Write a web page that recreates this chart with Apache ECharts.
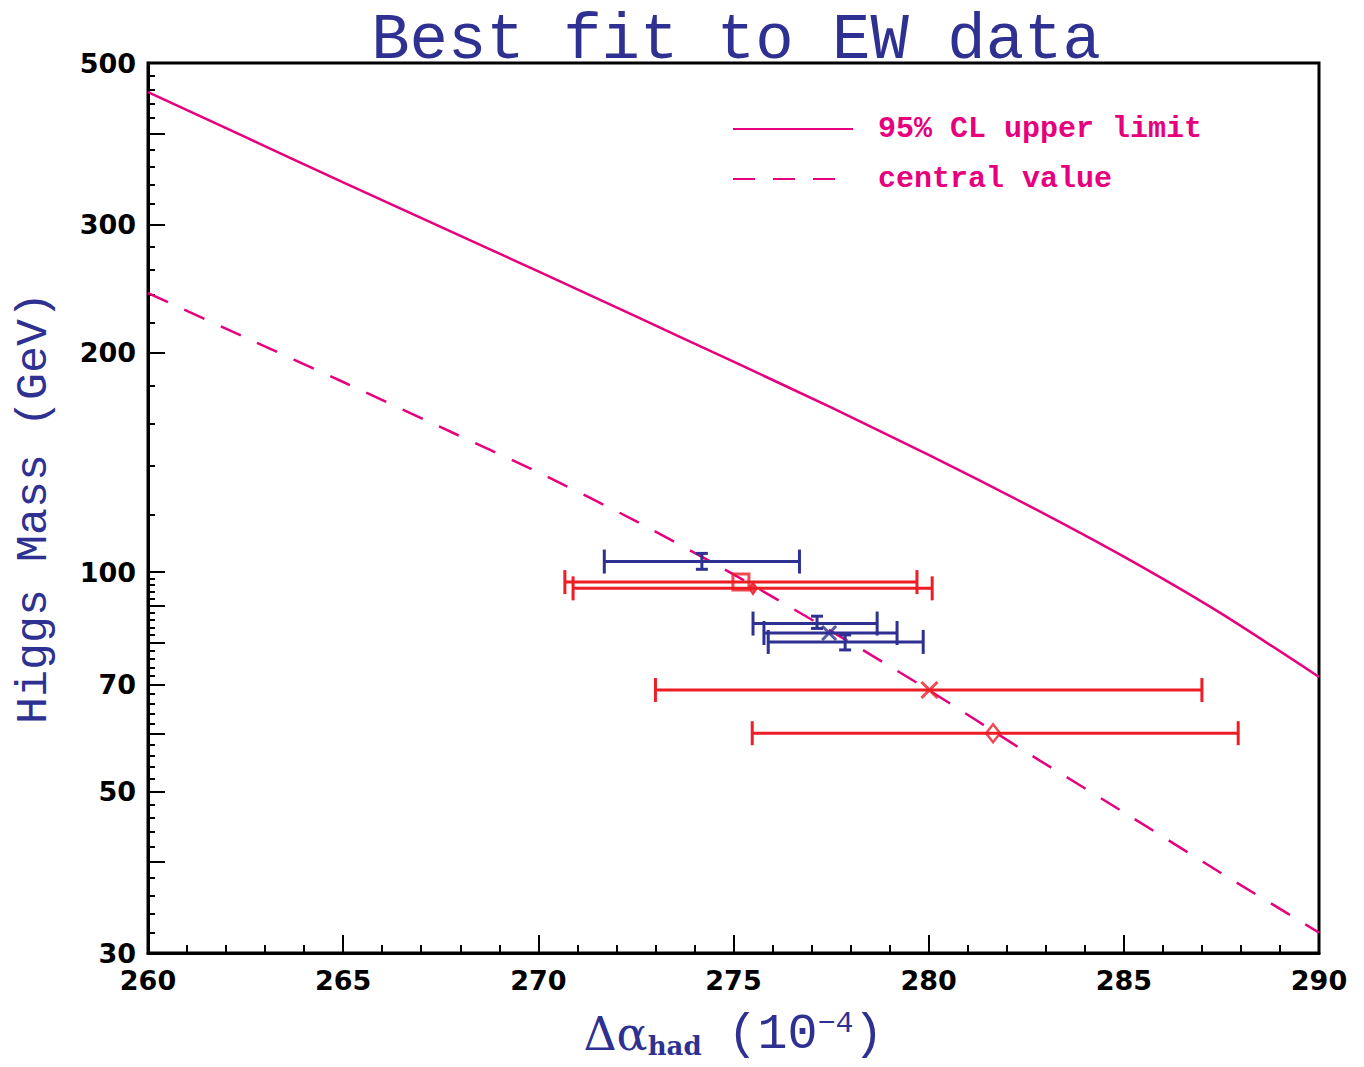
<!DOCTYPE html>
<html>
<head>
<meta charset="utf-8">
<script src="https://cdn.jsdelivr.net/npm/echarts@6/dist/echarts.min.js"></script>
<style>html,body{margin:0;padding:0;background:#fff;}#c{width:1364px;height:1067px;}</style>
</head>
<body>
<div id="c"></div>
<script>
// ---- data ----
const curveX = [260, 262.5, 265, 267.5, 270, 272.5, 275, 277.5, 280, 282.5, 285, 287.5, 290];
const upperLimit = [456, 395.5, 342.8, 297.8, 258.8, 224.4, 194.5, 168.3, 144.9, 123.9, 105.0, 87.7, 71.8];
const centralValue = [241.6, 209.9, 182.4, 158.1, 137.1, 117.5, 99.3, 83.0, 68.9, 56.6, 46.8, 38.6, 32.0];

// error bars: [xLow, xHigh, xCentre, y, yLow, yHigh]
const blueBars = [
  [271.69, 276.69, 274.19, 103.4, 100.9, 106.1],
  [275.5, 278.68, 277.14, 85.0, 83.7, 87.0],
  [275.78, 279.19, 277.45, 82.5, null, null],
  [275.89, 279.86, 277.86, 80.2, 78.2, 82.0]
];
const redBars = [
  [270.68, 279.70, 275.19, 96.9, null, null],
  [270.89, 280.09, 275.5, 95.0, null, null],
  [273.0, 287.0, 280.02, 68.9, null, null],
  [275.48, 287.93, 281.65, 60.1, null, null]
];
const blueCross = [[277.45, 82.5]];
const redSquare = [[275.19, 96.9]];
const redSmallDiamond = [[275.5, 95.0]];
const redCross = [[280.02, 68.9]];
const redDiamond = [[281.65, 60.1]];

const xTickLabels = [260, 265, 270, 275, 280, 285, 290];
const yLabelValues = [30, 50, 70, 100, 200, 300, 500];
const yMajorTicks = [30, 40, 50, 60, 70, 80, 90, 100, 200, 300, 400, 500];
const yMinorTicks = [];
for (let v = 30; v < 100; v += 2) if (yMajorTicks.indexOf(v) < 0) yMinorTicks.push(v);
for (let v = 100; v < 500; v += 20) if (yMajorTicks.indexOf(v) < 0) yMinorTicks.push(v);

const titleText = 'Best fit to EW data';
const legendNames = ['95% CL upper limit', 'central value'];

// ---- styles ----
const BLUE = '#2e3192';
const RED = '#ee1c25';
const MAG = '#e6007e';

const chart = echarts.init(document.getElementById('c'), null, {renderer: 'svg'});

function errRender(color) {
  return function (params, api) {
    const y = api.value(3);
    const p1 = api.coord([api.value(0), y]);
    const p2 = api.coord([api.value(1), y]);
    const cap = 12;
    const st = {stroke: color, lineWidth: 3, fill: null};
    const ch = [
      {type: 'line', shape: {x1: p1[0], y1: p1[1], x2: p2[0], y2: p2[1]}, style: st},
      {type: 'line', shape: {x1: p1[0], y1: p1[1] - cap, x2: p1[0], y2: p1[1] + cap}, style: st},
      {type: 'line', shape: {x1: p2[0], y1: p2[1] - cap, x2: p2[0], y2: p2[1] + cap}, style: st}
    ];
    const yl = api.value(4), yh = api.value(5);
    if (yl != null && !isNaN(yl) && yh != null && !isNaN(yh)) {
      const a = api.coord([api.value(2), yl]);
      const b = api.coord([api.value(2), yh]);
      const c2 = 6;
      ch.push({type: 'line', shape: {x1: a[0], y1: a[1], x2: b[0], y2: b[1]}, style: st});
      ch.push({type: 'line', shape: {x1: a[0] - c2, y1: a[1], x2: a[0] + c2, y2: a[1]}, style: st});
      ch.push({type: 'line', shape: {x1: b[0] - c2, y1: b[1], x2: b[0] + c2, y2: b[1]}, style: st});
    }
    return {type: 'group', children: ch};
  };
}

const tickFont = {fontFamily: 'DejaVu Sans', fontWeight: 'bold', fontSize: 27, color: '#000'};

const yBase = {
  type: 'log', logBase: 10, min: 30, max: 500, position: 'left',
  splitLine: {show: false}
};

const option = {
  backgroundColor: '#fff',
  animation: false,
  title: {
    text: titleText, left: 731, top: 4, textAlign: 'center',
    textStyle: {fontFamily: 'Liberation Mono', fontWeight: 'normal', fontSize: 64, color: BLUE}
  },
  legend: {
    orient: 'vertical', left: 727, top: 106,
    itemWidth: 120, itemHeight: 14, itemGap: 14,
    data: legendNames,
    itemStyle: {color: 'rgba(0,0,0,0)', borderWidth: 0},
    textStyle: {color: MAG, fontFamily: 'Liberation Mono', fontWeight: 'bold', fontSize: 30, lineHeight: 36, padding: [0, 0, 0, 20]}
  },
  grid: {left: 148, right: 45, top: 63, bottom: 114, show: true, borderColor: '#000', borderWidth: 3,
    backgroundColor: 'transparent', containLabel: false, outerBoundsMode: 'none'},
  xAxis: {
    type: 'value', min: 260, max: 290, interval: 5,
    axisLine: {show: true, lineStyle: {color: '#000', width: 3}},
    axisTick: {show: true, inside: true, length: 18, lineStyle: {color: '#000', width: 2}},
    minorTick: {show: true, splitNumber: 5, length: 8, lineStyle: {color: '#000', width: 2}},
    splitLine: {show: false},
    axisLabel: Object.assign({margin: 14, customValues: xTickLabels}, tickFont),
    name: '{d|Δα}{s|had}{g| }{n|(10}{p|−4}{n|)}',
    nameLocation: 'middle', nameGap: 56,
    nameTextStyle: {
      color: BLUE,
      rich: {
        d: {fontFamily: 'DejaVu Serif', fontSize: 46, color: BLUE, lineHeight: 50, verticalAlign: 'middle'},
        s: {fontFamily: 'DejaVu Serif', fontWeight: 'bold', fontSize: 26, color: BLUE, lineHeight: 26, verticalAlign: 'bottom', padding: [8, 0, 0, 0]},
        g: {fontSize: 30, lineHeight: 50, width: 26},
        n: {fontFamily: 'Liberation Mono', fontSize: 50, color: BLUE, lineHeight: 50, verticalAlign: 'middle'},
        p: {fontFamily: 'Liberation Mono', fontSize: 30, color: BLUE, lineHeight: 26, verticalAlign: 'top', padding: [0, 0, 10, 0]}
      }
    }
  },
  yAxis: [
    Object.assign({}, yBase, {
      axisLine: {show: true, lineStyle: {color: '#000', width: 3}},
      axisTick: {show: true, inside: true, length: 17, customValues: yMajorTicks, lineStyle: {color: '#000', width: 2}},
      axisLabel: Object.assign({margin: 12, customValues: yLabelValues}, tickFont),
      name: 'Higgs Mass (GeV)', nameLocation: 'middle', nameGap: 91, nameRotate: 90,
      nameTextStyle: {fontFamily: 'Liberation Mono', fontSize: 45, color: BLUE}
    }),
    Object.assign({}, yBase, {
      axisLine: {show: false},
      axisTick: {show: true, inside: true, length: 7, customValues: yMinorTicks, lineStyle: {color: '#000', width: 2}},
      axisLabel: {show: false}
    })
  ],
  series: [
    {
      name: legendNames[0], type: 'line', showSymbol: false, symbol: 'none', smooth: 0.2,
      data: curveX.map((x, i) => [x, upperLimit[i]]),
      lineStyle: {color: MAG, width: 2.5, type: 'solid'}, itemStyle: {color: MAG}, z: 3
    },
    {
      name: legendNames[1], type: 'line', showSymbol: false, symbol: 'none', smooth: 0.2,
      data: curveX.map((x, i) => [x, centralValue[i]]),
      lineStyle: {color: MAG, width: 2.5, type: [22, 18]}, itemStyle: {color: MAG}, z: 3
    },
    {
      type: 'custom', renderItem: errRender(BLUE), data: blueBars,
      encode: {x: [0, 1, 2], y: [3]}, z: 4, silent: true
    },
    {
      type: 'custom', renderItem: errRender(RED), data: redBars,
      encode: {x: [0, 1, 2], y: [3]}, z: 4, silent: true
    },
    {
      type: 'scatter', data: blueCross, symbol: 'path://M0,0L10,10M10,0L0,10', symbolSize: 14,
      itemStyle: {color: 'none', borderColor: BLUE, borderWidth: 3}, z: 5
    },
    {
      type: 'scatter', data: redSquare, symbol: 'rect', symbolSize: 16,
      itemStyle: {color: 'rgba(0,0,0,0)', borderColor: RED, borderWidth: 3}, z: 5
    },
    {
      type: 'scatter', data: redSmallDiamond, symbol: 'diamond', symbolSize: [8, 12],
      itemStyle: {color: RED, borderColor: RED, borderWidth: 2}, z: 5
    },
    {
      type: 'scatter', data: redCross, symbol: 'path://M0,0L10,10M10,0L0,10', symbolSize: 16,
      itemStyle: {color: 'none', borderColor: RED, borderWidth: 3}, z: 5
    },
    {
      type: 'scatter', data: redDiamond, symbol: 'diamond', symbolSize: [14, 18],
      itemStyle: {color: 'rgba(0,0,0,0)', borderColor: RED, borderWidth: 2.5}, z: 5
    }
  ]
};
chart.setOption(option);
</script>
</body>
</html>
